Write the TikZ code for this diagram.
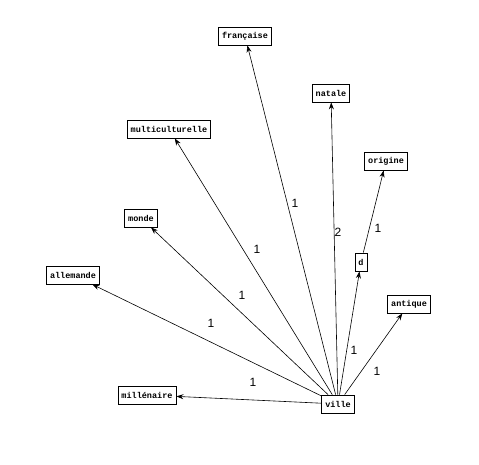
\documentclass[tikz,border=0pt]{standalone}
\usepackage{fontspec}
\setmainfont{Liberation Sans}
\setmonofont{Liberation Mono}
\usetikzlibrary{arrows.meta}
\tikzset{
  word/.style={
    draw=black,
    fill=white,
    line width=0.8pt,
    inner xsep=3.5pt,
    inner ysep=0pt,
    minimum height=18pt,
    font=\fontsize{8.5}{10}\ttfamily\bfseries
  },
  weight/.style={
    inner sep=1pt,
    font=\fontsize{12}{14}\selectfont
  },
  arrow/.style={-{Stealth[length=7pt,width=5pt]}, line width=0.6pt}
}
\begin{document}
\begin{tikzpicture}[x=1pt,y=-1pt]
  \useasboundingbox (0,0) rectangle (479,465);
  \node[word] (ville) at (338,404) {ville};
  \node[word] (francaise) at (245,36) {française};
  \node[word] (natale) at (331,93) {natale};
  \node[word] (multi) at (169,129) {multiculturelle};
  \node[word] (origine) at (386,161) {origine};
  \node[word] (monde) at (141,218) {monde};
  \node[word] (d) at (361,262) {d};
  \node[word] (allemande) at (73,275) {allemande};
  \node[word] (antique) at (409,304) {antique};
  \node[word] (millenaire) at (147,395) {millénaire};

  \draw[arrow] (ville) -- (francaise);
  \draw[arrow] (ville) -- (natale);
  \draw[arrow] (ville) -- (multi);
  \draw[arrow] (ville) -- (monde);
  \draw[arrow] (ville) -- (d);
  \draw[arrow] (ville) -- (allemande);
  \draw[arrow] (ville) -- (antique);
  \draw[arrow] (ville) -- (millenaire);
  \draw[arrow] (d) -- (origine);

  \node[weight] (w1) at (295,203) {1};
  \node[weight] (w2) at (338,232) {2};
  \node[weight] (w3) at (257,249) {1};
  \node[weight] (w4) at (242,295) {1};
  \node[weight] (w5) at (211,323) {1};
  \node[weight] (w6) at (253,382) {1};
  \node[weight] (w7) at (354,350) {1};
  \node[weight] (w8) at (377,371) {1};
  \node[weight] (w9) at (378,228) {1};
\end{tikzpicture}
\end{document}
